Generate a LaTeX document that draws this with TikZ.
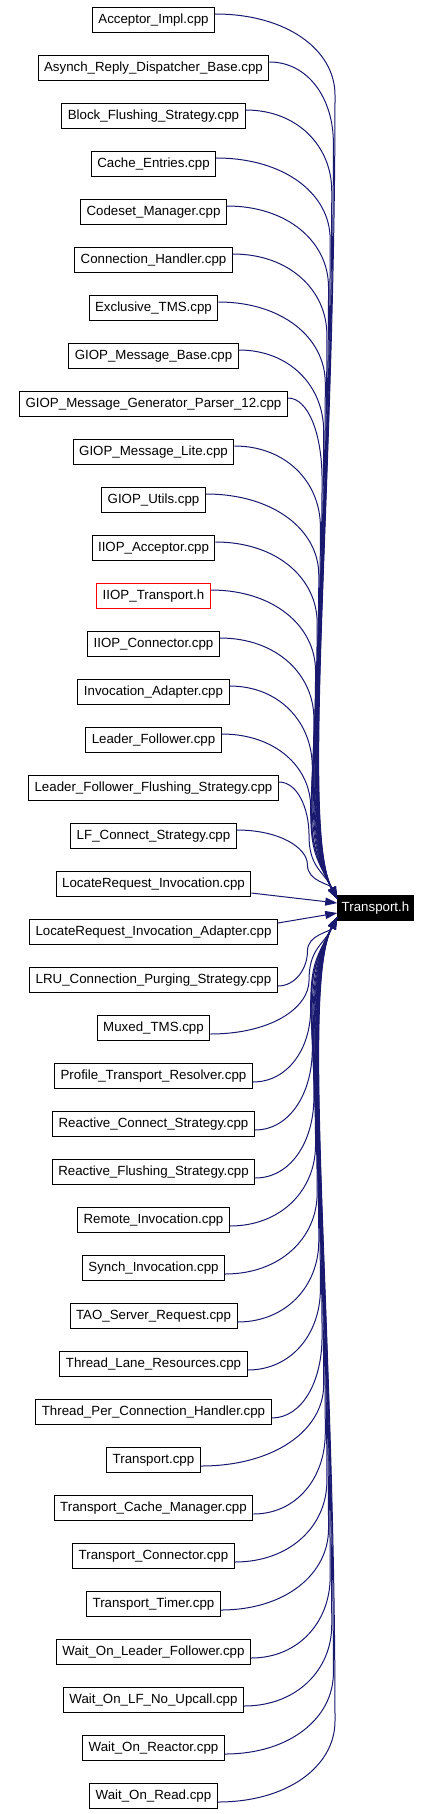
\documentclass[tikz,border=0pt]{standalone}
\usepackage{fontspec}
\setmainfont{Liberation Sans}
\usetikzlibrary{arrows.meta,calc}
\definecolor{midnight}{HTML}{191970}
\tikzset{
  file/.style={draw, line width=1pt, minimum height=25pt, inner xsep=6pt, inner ysep=0pt,
    text height=10pt, text depth=3pt, font=\fontsize{13.3}{15}\selectfont},
  edge/.style={draw=midnight, line width=1pt, -{Triangle[length=12pt,width=8pt]}, fill=none},
}
\begin{document}
\begin{tikzpicture}[x=1pt, y=-1pt]
    \useasboundingbox (0,0) rectangle (430,1814);
    \node[file, fill=black, text=white, inner xsep=4pt] (T) at (375.5,908) {Transport.h};
    \foreach \f/\c [count=\i from 0] in {Acceptor\_Impl.cpp/black, Asynch\_Reply\_Dispatcher\_Base.cpp/black,
      Block\_Flushing\_Strategy.cpp/black, Cache\_Entries.cpp/black, Codeset\_Manager.cpp/black,
      Connection\_Handler.cpp/black, Exclusive\_TMS.cpp/black, GIOP\_Message\_Base.cpp/black,
      GIOP\_Message\_Generator\_Parser\_12.cpp/black, GIOP\_Message\_Lite.cpp/black, GIOP\_Utils.cpp/black,
      IIOP\_Acceptor.cpp/black, IIOP\_Transport.h/red, IIOP\_Connector.cpp/black,
      Invocation\_Adapter.cpp/black, Leader\_Follower.cpp/black, Leader\_Follower\_Flushing\_Strategy.cpp/black,
      LF\_Connect\_Strategy.cpp/black, LocateRequest\_Invocation.cpp/black,
      LocateRequest\_Invocation\_Adapter.cpp/black, LRU\_Connection\_Purging\_Strategy.cpp/black,
      Muxed\_TMS.cpp/black, Profile\_Transport\_Resolver.cpp/black, Reactive\_Connect\_Strategy.cpp/black,
      Reactive\_Flushing\_Strategy.cpp/black, Remote\_Invocation.cpp/black, Synch\_Invocation.cpp/black,
      TAO\_Server\_Request.cpp/black, Thread\_Lane\_Resources.cpp/black,
      Thread\_Per\_Connection\_Handler.cpp/black, Transport.cpp/black, Transport\_Cache\_Manager.cpp/black,
      Transport\_Connector.cpp/black, Transport\_Timer.cpp/black, Wait\_On\_Leader\_Follower.cpp/black,
      Wait\_On\_LF\_No\_Upcall.cpp/black, Wait\_On\_Reactor.cpp/black, Wait\_On\_Read.cpp/black} {
      \node[file, draw=\c] (s\i) at (153.5, 20+48*\i) {\f};
    }
    % the two nearly level ones
    \draw[edge] ([yshift=-9pt]s18.east) -- ([yshift=5pt]T.west);
    \draw[edge] ([yshift=9pt]s19.east) -- ([yshift=-5pt]T.west);
    % the rest bend into the bundle
    \foreach \i in {0,1,...,17,20,21,...,37} {
      \pgfmathsetmacro\yz{20+48*\i}
      \pgfmathsetmacro\sgn{\yz<908 ? 1 : -1}
      \pgfmathsetmacro\dab{abs(908-\yz)}
      \pgfmathsetmacro\xB{305+\dab/888*30}
      \pgfmathsetmacro\hh{min(75,0.4*\dab)}
      \pgfmathsetmacro\yB{\yz+\sgn*\hh}
      \pgfmathsetmacro\yS{\yz-\sgn*6}
      \pgfmathsetmacro\yC{\yz+\sgn*0.4*\hh}
      \pgfmathsetmacro\yE{908-\sgn*9}
      \pgfmathsetmacro\rst{abs(\yE-\yB)}
      \pgfmathsetmacro\kk{min(70,0.45*\rst)}
      \pgfmathsetmacro\yD{\yB+\sgn*0.5*\rst}
      \pgfmathsetmacro\xF{339-0.55*\kk}
      \pgfmathsetmacro\yF{\yE-\sgn*\kk}
      \draw[edge] ([yshift=\sgn*6pt]s\i.east) .. controls ($([yshift=\sgn*6pt]s\i.east)!0.6!(\xB,\yS)$) and (\xB,\yC)
        .. (\xB,\yB) .. controls (\xB,\yD) and (\xF,\yF) .. ([yshift=\sgn*9pt]T.west);
    }
\end{tikzpicture}
\end{document}
